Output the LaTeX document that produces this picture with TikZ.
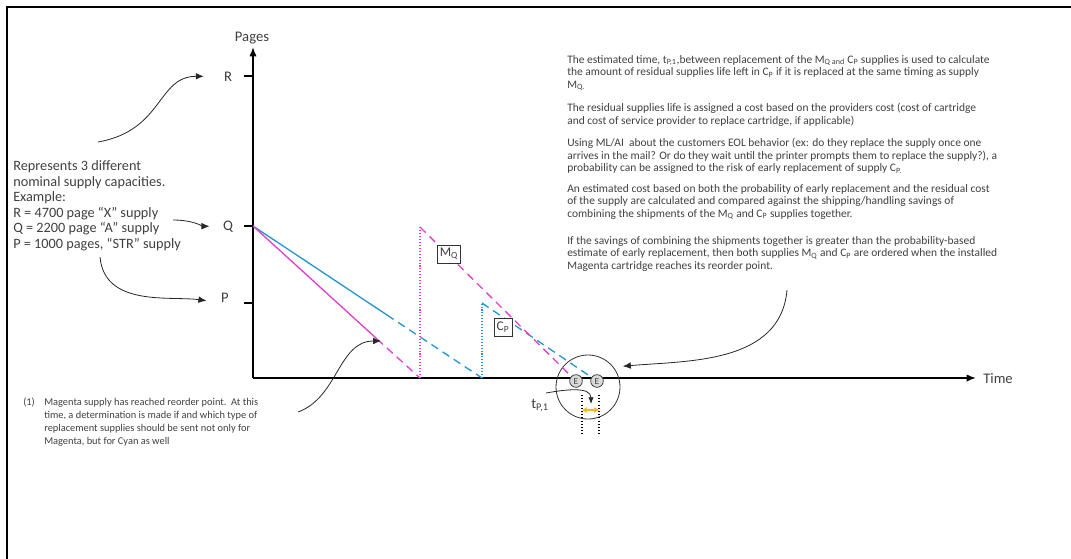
\documentclass[tikz,border=0pt]{standalone}
\usepackage{fontspec}
\setmainfont{Carlito}
\usetikzlibrary{arrows.meta}
\definecolor{magline}{RGB}{226,64,204}
\definecolor{cyanline}{RGB}{36,152,206}
\definecolor{tone}{RGB}{247,182,24}
\definecolor{txt}{RGB}{64,64,64}
\tikzset{
  frameline/.style={line width=1.3pt},
  axisline/.style={line width=1.2pt, -{Latex[length=7pt,width=5.5pt]}},
  tickline/.style={line width=1.2pt},
  axislabel/.style={text=txt, font=\fontsize{11}{13}\selectfont, inner sep=0pt},
  note/.style={text=txt, font=\fontsize{8.6}{9.5}\selectfont, align=left, anchor=north west, inner sep=0pt},
  bignote/.style={text=txt, font=\fontsize{10.7}{11.6}\selectfont, align=left, anchor=north west, inner sep=0pt},
  callout/.style={line width=0.6pt, draw=black!85, -{Latex[length=6pt,width=5pt]}},
  magsolid/.style={draw=magline, line width=1pt},
  magdash/.style={draw=magline, line width=1pt, dash pattern=on 6pt off 4pt},
  magdot/.style={draw=magline, line width=1pt, dash pattern=on 0.8pt off 1.4pt},
  cyansolid/.style={draw=cyanline, line width=1pt},
  cyandash/.style={draw=cyanline, line width=1pt, dash pattern=on 6pt off 4pt},
  cyandot/.style={draw=cyanline, line width=1pt, dash pattern=on 0.8pt off 1.4pt},
  capbox/.style={draw=black!80, line width=0.6pt, text=txt, fill=white, font=\fontsize{10}{12}\selectfont, inner sep=2pt, minimum height=13.5pt},
  endmark/.style={circle, draw=black!75, fill=black!15, line width=0.6pt, inner sep=0pt, minimum size=9.5pt, font=\fontsize{7}{7}\selectfont, text=txt},
  closeup/.style={circle, draw=black!80, line width=0.6pt, inner sep=0pt, minimum size=48pt},
  tdotted/.style={line width=1pt, dash pattern=on 0.8pt off 1.6pt},
  gaparrow/.style={draw=tone, line width=1.2pt, {Latex[length=3.5pt,width=4.5pt]}-{Latex[length=3.5pt,width=4.5pt]}}
}
\begin{document}
\begin{tikzpicture}[x=0.75pt,y=0.75pt]
\useasboundingbox (0,0) rectangle (1071,-558);
% frame
\draw[frameline] (7,-560) -- (7,-7) -- (1075,-7);

% axes
\coordinate (O) at (253,-378);
\draw[axisline] (O) -- (253,-47);
\draw[axisline] (O) -- (976,-378);
\node[axislabel, anchor=base] (pages) at (252,-41) {Pages};
\node[axislabel, anchor=base west] (time) at (983,-383) {Time};

% capacity levels
\draw[tickline] (244,-76) -- (253,-76);
\draw[tickline] (244,-226) -- (253,-226);
\draw[tickline] (244,-303) -- (253,-303);
\node[axislabel, anchor=base] (labR) at (228,-81) {R};
\node[axislabel, anchor=base] (labQ) at (228,-230) {Q};
\node[axislabel, anchor=base] (labP) at (225,-302.5) {P};

\node[bignote] (capacities) at (13,-160.5) {Represents 3 different\\nominal supply capacities.\\Example:\\R = 4700 page “X” supply\\Q = 2200 page “A” supply\\P = 1000 pages, “STR” supply};

\coordinate (fromR) at (98,-142);
\coordinate (fromQ) at (173,-220);
\coordinate (fromP) at (100,-257);
\draw[callout, shorten >=15pt] (fromR) to[out=10, in=180, looseness=1.2] (labR);
\draw[callout, shorten >=10pt] (fromQ) to[out=0, in=180] (labQ);
\draw[callout, shorten >=11pt] (fromP) to[out=-85, in=172] (labP.south west);

% close-up of the two end points
\node[closeup] (zoomc) at (588,-387) {};
\node[endmark] (E1) at (576,-381) {E};
\node[endmark] (E2) at (597,-381) {E};

% supply curves
\coordinate (Q0) at (253,-226);
\coordinate (mreorder) at (377,-339);
\coordinate (mzero) at (420,-378);
\coordinate (mnew) at (420,-227);
\coordinate (creorder) at (387,-315);
\coordinate (czero) at (482,-378);
\coordinate (cnew) at (482,-303);
\draw[cyansolid] (Q0) -- (creorder);
\draw[cyandash] (creorder) -- (czero);
\draw[cyandot] (czero) -- (cnew);
\draw[cyandash] (cnew) -- (E2);
\draw[magsolid] (Q0) -- (mreorder);
\draw[magdash] (mreorder) -- (mzero);
\draw[magdot] (mzero) -- (mnew);
\draw[magdash] (mnew) -- (E1);

\node[capbox] (boxMQ) at (449,-254) {M\textsubscript{Q}};
\node[capbox] (boxCP) at (503,-327) {C\textsubscript{P}};

% time between replacements
\draw[tdotted] (582,-395) -- (582,-434);
\draw[tdotted] (599,-395) -- (599,-434);
\coordinate (g1) at (582,-410);
\coordinate (g2) at (599,-410);
\draw[gaparrow] (g1) -- (g2);
\node[axislabel, anchor=base] (tlab) at (540,-408) {t\textsubscript{P,1}};
\coordinate (fromT) at (546,-393);
\coordinate (tmark) at (591,-404);
\draw[callout, -{Latex[length=5pt,width=4pt]}] (fromT) to[out=10, in=90] (tmark);

% footnote
\node[anchor=north west, inner sep=0pt, text=txt, font=\fontsize{7.8}{9.75}\selectfont] (fnnum) at (23,-398) {(1)};
\node[note, font=\fontsize{7.8}{9.75}\selectfont] (fntext) at (44,-398) {Magenta supply has reached reorder point.\ \ At this\\time, a determination is made if and which type of\\replacement supplies should be sent not only for\\Magenta, but for Cyan as well};
\coordinate (fromfn) at (298,-412);
\coordinate (reorderpt) at (381,-341);
\draw[callout] (fromfn) to[out=20, in=180] (reorderpt);

% explanation
\node[note] (para1) at (567,-55) {The estimated time, t\textsubscript{P,1},between replacement of the M\textsubscript{Q and} C\textsubscript{P} supplies is used to calculate\\the amount of residual supplies life left in C\textsubscript{P} if it is replaced at the same timing as supply\\M\textsubscript{Q.}};
\node[note] (para2) at (567,-103) {The residual supplies life is assigned a cost based on the providers cost (cost of cartridge\\and cost of service provider to replace cartridge, if applicable)};
\node[note] (para3) at (567,-138) {Using ML/AI\ \ about the customers EOL behavior (ex: do they replace the supply once one\\arrives in the mail? Or do they wait until the printer prompts them to replace the supply?), a\\probability can be assigned to the risk of early replacement of supply C\textsubscript{P.}};
\node[note] (para4) at (567,-184) {An estimated cost based on both the probability of early replacement and the residual cost\\of the supply are calculated and compared against the shipping/handling savings of\\combining the shipments of the M\textsubscript{Q} and C\textsubscript{P} supplies together.};
\node[note] (para5) at (567,-236) {If the savings of combining the shipments together is greater than the probability-based\\estimate of early replacement, then both supplies M\textsubscript{Q} and C\textsubscript{P} are ordered when the installed\\Magenta cartridge reaches its reorder point.};
\coordinate (fromtext) at (787,-290);
\draw[callout, shorten >=7pt] (fromtext) to[out=-95, in=5] (zoomc.38);
\end{tikzpicture}
\end{document}
